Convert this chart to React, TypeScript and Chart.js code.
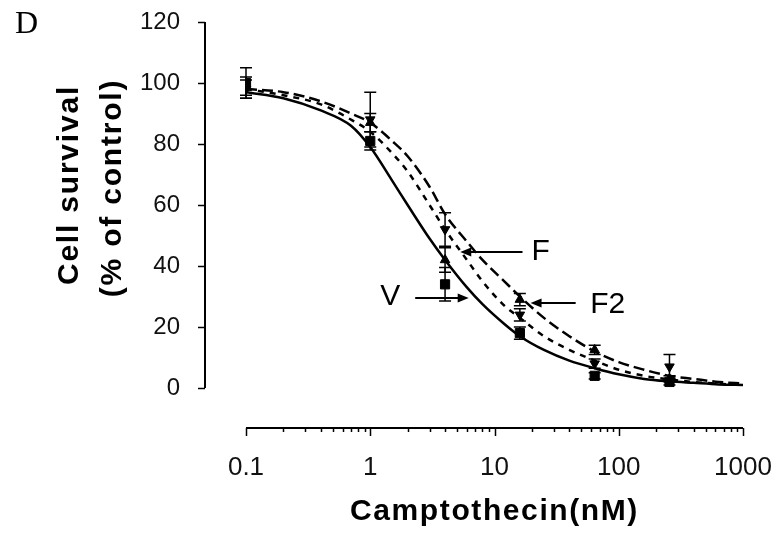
import React, { useEffect, useRef } from 'react';
import { Chart, registerables } from 'chart.js';

Chart.register(...registerables);

// ---- measured data (dose in nM, survival in % of control) ----
const doses = [0.1, 1, 4, 16, 64, 256];
const vMeans = [100, 81, 34, 18, 4, 2];
const vErr = [5, 3, 5.5, 2, 1, 1];
const fMeans = [98, 88, 52, 24, 8, 7];
const fErr = [3, 9, 5.5, 2, 1.5, 4];
const f2Means = [99, 87, 42, 29, 12.5, 3];
const f2Err = [3, 3, 4, 2, 1.5, 1];

// ---- fitted curves ----
const curveDoses = [0.1, 0.2, 0.4, 0.7, 1, 1.5, 2, 3, 4, 6, 8, 12, 16, 25, 40, 64, 100, 160, 256, 400, 640, 1000];
const vCurve = [97, 95, 91, 86, 79, 68, 60, 49, 42, 33, 27.5, 21, 17, 12.5, 9, 6.5, 4.5, 3, 2.2, 1.7, 1.2, 1];
const fCurve = [98, 96, 93, 88, 84, 77, 71, 60, 52, 42, 35, 27, 23, 17, 12.5, 9, 6, 4, 2.8, 2, 1.4, 1];
const f2Curve = [98, 97, 94, 90, 87, 81, 76, 66, 57, 48, 42, 35, 30, 23, 17, 12, 8.5, 6, 4, 3, 2, 1.5];

// ---- axes ----
const xMajorTicks = [0.1, 1, 10, 100, 1000];
const xTickLabels = ['0.1', '1', '10', '100', '1000'];
const yTicks = [0, 20, 40, 60, 80, 100, 120];

// ---- annotations (data coordinates) ----
const annLabels = ['V', 'F', 'F2'];
const annTextDose = [1.45, 23.5, 81.5];
const annTextValue = [30, 44.6, 27.2];
const annTailDose = [2.3, 16.8, 45];
const annTipDose = [6.2, 5.3, 19.5];
const annArrowValue = [29.5, 44.6, 27.9];

const SANS = '"Liberation Sans", Arial, sans-serif';

function minorTicks(): number[] {
  const out: number[] = [];
  for (let i = 0; i < xMajorTicks.length; i++) {
    out.push(xMajorTicks[i]);
    if (i < xMajorTicks.length - 1) {
      for (let m = 2; m <= 9; m++) out.push(m * xMajorTicks[i]);
    }
  }
  return out;
}

const customPlugin = {
  id: 'custom',
  beforeDatasetsDraw(chart: any) {
    const { ctx, scales } = chart;
    const x = scales.x, y = scales.y;
    ctx.save();
    ctx.strokeStyle = '#000';
    ctx.lineWidth = 1.5;
    const series = [
      [vMeans, vErr],
      [fMeans, fErr],
      [f2Means, f2Err],
    ];
    series.forEach(([means, errs]) => {
      doses.forEach((d, i) => {
        const px = x.getPixelForValue(d);
        const top = y.getPixelForValue(means[i] + errs[i]);
        const bot = y.getPixelForValue(means[i] - errs[i]);
        ctx.beginPath();
        ctx.moveTo(px, top);
        ctx.lineTo(px, bot);
        ctx.moveTo(px - 6, top);
        ctx.lineTo(px + 6, top);
        ctx.moveTo(px - 6, bot);
        ctx.lineTo(px + 6, bot);
        ctx.stroke();
      });
    });
    ctx.restore();
  },
  afterDraw(chart: any) {
    const { ctx, chartArea, scales } = chart;
    const x = scales.x, y = scales.y;
    ctx.save();
    ctx.strokeStyle = '#000';
    ctx.fillStyle = '#000';

    // y axis (detached, left of plotting area)
    const yAxisX = chartArea.left - 41;
    ctx.lineWidth = 2;
    ctx.beginPath();
    ctx.moveTo(yAxisX, y.getPixelForValue(yTicks[yTicks.length - 1]));
    ctx.lineTo(yAxisX, y.getPixelForValue(yTicks[0]));
    ctx.stroke();
    ctx.lineWidth = 1.5;
    yTicks.forEach((v) => {
      const py = Math.round(y.getPixelForValue(v)) + 0.5;
      ctx.beginPath();
      ctx.moveTo(yAxisX - 7, py);
      ctx.lineTo(yAxisX, py);
      ctx.stroke();
    });

    // x axis
    const xAxisY = chartArea.bottom;
    ctx.lineWidth = 2;
    ctx.beginPath();
    ctx.moveTo(x.getPixelForValue(xMajorTicks[0]), xAxisY);
    ctx.lineTo(x.getPixelForValue(xMajorTicks[xMajorTicks.length - 1]), xAxisY);
    ctx.stroke();
    ctx.lineWidth = 1.5;
    minorTicks().forEach((v) => {
      const px = Math.round(x.getPixelForValue(v)) + 0.5;
      const major = xMajorTicks.includes(v);
      ctx.beginPath();
      ctx.moveTo(px, xAxisY);
      ctx.lineTo(px, xAxisY + (major ? 8 : 4));
      ctx.stroke();
    });

    // axis titles
    ctx.font = `bold 30px ${SANS}`;
    (ctx as any).letterSpacing = '1.8px';
    ctx.textAlign = 'center';
    ctx.textBaseline = 'middle';
    ctx.save();
    ctx.translate(70, 185);
    ctx.rotate(-Math.PI / 2);
    ctx.fillText('Cell survival', 0, 0);
    ctx.restore();
    ctx.save();
    ctx.translate(113, 188);
    ctx.rotate(-Math.PI / 2);
    ctx.fillText('(% of control)', 0, 0);
    ctx.restore();
    (ctx as any).letterSpacing = '1.6px';
    ctx.fillText('Camptothecin(nM)', (x.left + x.right) / 2, xAxisY + 84);
    (ctx as any).letterSpacing = '0px';

    // panel letter
    ctx.font = '32px "Liberation Serif", "Times New Roman", serif';
    ctx.textAlign = 'left';
    ctx.textBaseline = 'alphabetic';
    ctx.fillText('D', 15, 33);

    // annotations with arrows
    ctx.font = `30px ${SANS}`;
    ctx.textAlign = 'center';
    ctx.textBaseline = 'middle';
    annLabels.forEach((lab, i) => {
      ctx.fillText(lab, x.getPixelForValue(annTextDose[i]), y.getPixelForValue(annTextValue[i]));
      const ay = y.getPixelForValue(annArrowValue[i]);
      const tx = x.getPixelForValue(annTailDose[i]);
      const hx = x.getPixelForValue(annTipDose[i]);
      const dir = hx > tx ? 1 : -1;
      ctx.lineWidth = 2;
      ctx.beginPath();
      ctx.moveTo(tx, ay);
      ctx.lineTo(hx - dir * 9, ay);
      ctx.stroke();
      ctx.beginPath();
      ctx.moveTo(hx, ay);
      ctx.lineTo(hx - dir * 11, ay - 4.5);
      ctx.lineTo(hx - dir * 11, ay + 4.5);
      ctx.closePath();
      ctx.fill();
    });
    ctx.restore();
  },
};

const toPts = (xs: number[], ys: number[]) => xs.map((d, i) => ({ x: d, y: ys[i] }));

export default function App() {
  const ref = useRef<HTMLCanvasElement | null>(null);
  useEffect(() => {
    document.body.style.margin = '0';
    const canvas = ref.current;
    if (!canvas) return;
    const lineBase = {
      showLine: true,
      borderColor: '#000',
      backgroundColor: '#000',
      borderWidth: 2.5,
      pointRadius: 0,
      cubicInterpolationMode: 'monotone' as const,
      fill: false,
    };
    const markBase = {
      showLine: false,
      borderColor: '#000',
      backgroundColor: '#000',
      borderWidth: 1,
    };
    const chart = new Chart(canvas, {
      type: 'scatter',
      data: {
        datasets: [
          { ...lineBase, label: 'V fit', data: toPts(curveDoses, vCurve) },
          { ...lineBase, label: 'F fit', data: toPts(curveDoses, fCurve), borderDash: [6, 6] },
          { ...lineBase, label: 'F2 fit', data: toPts(curveDoses, f2Curve), borderDash: [11, 5] },
          { ...markBase, label: 'V', data: toPts(doses, vMeans), pointStyle: 'rect', pointRadius: 6.5 },
          { ...markBase, label: 'F', data: toPts(doses, fMeans), pointStyle: 'triangle', pointRotation: 180, pointRadius: 5.5 },
          { ...markBase, label: 'F2', data: toPts(doses, f2Means), pointStyle: 'triangle', pointRadius: 5.5 },
        ] as any,
      },
      options: {
        animation: false,
        responsive: false,
        maintainAspectRatio: false,
        layout: { padding: { left: 0, top: 22, right: 38, bottom: 0 } },
        plugins: { legend: { display: false }, tooltip: { enabled: false } },
        scales: {
          x: {
            type: 'logarithmic',
            min: xMajorTicks[0],
            max: xMajorTicks[xMajorTicks.length - 1],
            grid: { display: false },
            border: { display: false },
            ticks: {
              autoSkip: false,
              maxRotation: 0,
              padding: 16,
              color: '#111',
              font: { family: SANS, size: 26 },
              callback: (v: any) => {
                const idx = xMajorTicks.indexOf(Number(v));
                return idx >= 0 ? xTickLabels[idx] : '';
              },
            },
            afterBuildTicks: (s: any) => {
              s.ticks = minorTicks().map((v) => ({ value: v }));
            },
            afterFit: (s: any) => {
              s.height = 105;
              s.paddingLeft = 0;
              s.paddingRight = 0;
            },
          },
          y: {
            type: 'linear',
            min: -13.1,
            max: 120,
            grid: { display: false },
            border: { display: false },
            ticks: {
              padding: 58,
              color: '#111',
              font: { family: SANS, size: 24 },
              callback: (v: any) => String(v),
            },
            afterBuildTicks: (s: any) => {
              s.ticks = yTicks.map((v) => ({ value: v }));
            },
            afterFit: (s: any) => {
              s.width = 246;
              s.paddingTop = 0;
              s.paddingBottom = 0;
            },
          },
        },
      } as any,
      plugins: [customPlugin],
    });
    return () => chart.destroy();
  }, []);
  return (
    <div style={{ width: 781, height: 533, background: '#fff' }}>
      <canvas ref={ref} width={781} height={533} style={{ display: 'block' }} />
    </div>
  );
}
